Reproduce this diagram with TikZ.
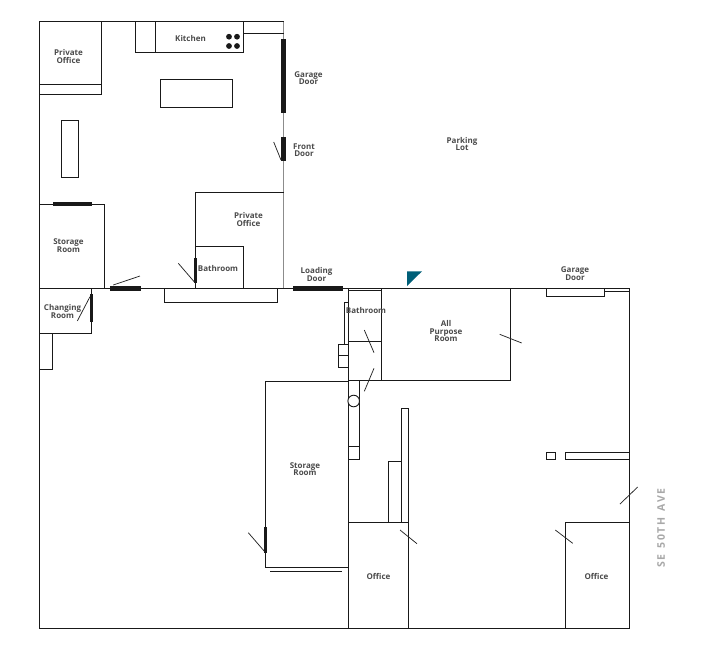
\documentclass[tikz,border=0pt]{standalone}
\usepackage{fontspec}
\setmainfont{Open Sans}
\setlength{\lineskiplimit}{-5pt}
\definecolor{wallgray}{HTML}{8C8C8C}
\definecolor{labelgray}{HTML}{4A4A4A}
\definecolor{streetgray}{HTML}{A8A8A8}
\definecolor{markerteal}{HTML}{005F78}

\begin{document}
\begin{tikzpicture}[
        x=1pt, y=-1pt,
        wall/.style={draw=black!90, line width=0.9pt},
        swing/.style={draw=black!85, line width=0.75pt},
        doorbar/.style={draw=black!90, line width=5pt},
        doorthin/.style={draw=black!90, line width=3pt},
        roomlabel/.style={font=\fontsize{8}{7.4}\selectfont\bfseries, text=labelgray, align=center, inner sep=0pt}]

        \useasboundingbox (0,0) rectangle (715,662);

        % --- OUTER WALLS ---
        \draw[wall] (283.5,21.5) -- (39.5,21.5) -- (39.5,628.3) -- (629.3,628.3) -- (629.3,288.3);
        \draw[wall] (39.5,288.3) -- (629.3,288.3);
        \draw[draw=wallgray, line width=1pt] (283.5,21.5) -- (283.5,288.3);

        % --- NORTH WING ---
        % Private office and shelf
        \draw[wall] (39.5,84) -- (101.5,84) (101.5,21.5) -- (101.5,94) -- (39.5,94);
        % Kitchen
        \draw[wall] (135.5,21.5) -- (135.5,52) -- (243,52) -- (243,21.5);
        \draw[wall] (155.5,21.5) -- (155.5,52);
        \draw[wall] (243,33.5) -- (283.5,33.5);
        \foreach \x in {229,237}
            \foreach \y in {36.7,46}
                \fill[black!90] (\x,\y) circle (2.9pt);
        % Island and table
        \draw[wall] (160,79.5) rectangle (232.5,107);
        \draw[wall] (61.5,120) rectangle (78.5,177);
        % Storage room
        \draw[wall] (39.5,204.3) -- (104.3,204.3) -- (104.3,288.3);
        % Private office and bathroom
        \draw[wall] (195.3,288.3) -- (195.3,192.3) -- (283.5,192.3);
        \draw[wall] (195.3,246.3) -- (243.3,246.3) -- (243.3,288.3);
        % Counter
        \draw[wall] (164.3,288.3) -- (164.3,302.3) -- (277.7,302.3) -- (277.7,288.3);

        % --- SOUTH WEST ---
        % Changing room
        \draw[wall] (91.7,288.3) -- (91.7,333.3) -- (39.5,333.3);
        \draw[wall] (52.3,333.3) -- (52.3,369.3) -- (39.5,369.3);
        % Storage room
        \draw[wall] (348.3,381.3) -- (265.3,381.3) -- (265.3,567.3) -- (348.3,567.3);
        \draw[wall] (270,571.3) -- (342,571.3);

        % --- CENTRE ---
        % Bathroom column
        \draw[wall] (348.3,288.3) -- (348.3,628.3);
        \draw[wall] (381.3,288.3) -- (381.3,380.3);
        \draw[wall] (348.3,290.3) -- (381.3,290.3);
        \draw[wall] (348.3,341.3) -- (381.3,341.3);
        \draw[wall] (344.3,344.3) -- (344.3,302.3) -- (348.3,302.3);
        \draw[wall] (338.3,344.3) rectangle (348.3,367.3);
        \draw[wall] (338.3,355.3) -- (348.3,355.3);
        % All purpose room
        \draw[wall] (348.3,380.3) -- (510.3,380.3) -- (510.3,288.3);
        % Service column
        \draw[wall] (359.3,380.3) -- (359.3,459.3) -- (348.3,459.3);
        \draw[wall] (348.3,446.3) -- (359.3,446.3);
        \draw[wall, fill=white] (353.7,401) circle (5.8pt);
        % Office and partitions
        \draw[wall] (348.3,522.3) -- (408.5,522.3);
        \draw[wall] (408.5,628.3) -- (408.5,408.3) -- (401.3,408.3) -- (401.3,522.3);
        \draw[wall] (401.3,461.3) -- (388.3,461.3) -- (388.3,522.3);

        % --- EAST WING ---
        \draw[wall] (546.3,288.3) -- (546.3,296.3) -- (604.7,296.3) -- (604.7,288.3);
        \draw[wall] (604.7,291.7) -- (629.3,291.7);
        \draw[wall] (546.3,452.3) rectangle (555.7,459.3);
        \draw[wall] (629.3,452.3) -- (565.3,452.3) -- (565.3,459.3) -- (629.3,459.3);
        \draw[wall] (565.3,628.3) -- (565.3,522.3) -- (629.3,522.3);

        % --- DOORS ---
        \draw[doorbar] (283.5,39) -- (283.5,112.5);
        \draw[doorbar] (283.5,137) -- (283.5,160.5);
        \draw[doorbar] (110,288.3) -- (141,288.3);
        \draw[doorbar] (293,288.3) -- (343,288.3);
        \draw[doorbar, line width=3.5pt] (53,204.2) -- (92,204.2);
        \draw[doorthin] (195.3,258) -- (195.3,282.7);
        \draw[doorthin] (91.2,294) -- (91.2,321.7);
        \draw[doorthin] (265.3,527.3) -- (265.3,552.7);

        % --- DOOR SWINGS ---
        \draw[swing] (273.7,142) -- (281,160);
        \draw[swing] (113.3,285) -- (140,276);
        \draw[swing] (178.3,263.3) -- (195,282.7);
        \draw[swing] (90,296.7) -- (77.3,321);
        \draw[swing] (364.3,330) -- (374,352.7);
        \draw[swing] (374,368.3) -- (364.3,391.3);
        \draw[swing] (499.7,334.3) -- (521.7,343);
        \draw[swing] (248.3,532.7) -- (265,552);
        \draw[swing] (400,530) -- (417,543.7);
        \draw[swing] (555.3,530) -- (572.7,543.3);
        \draw[swing] (620,504) -- (637.7,487);

        % North marker
        \fill[markerteal] (407,271.3) -- (422,271.3) -- (407,286) -- cycle;

        % --- LABELS ---
        \node[roomlabel] (office1) at (68.5,56.5) {Private\\Office};
        \node[roomlabel] (kitchen) at (190.5,38) {Kitchen};
        \node[roomlabel] (garage1) at (308.5,78) {Garage\\Door};
        \node[roomlabel] (front) at (304,150) {Front\\Door};
        \node[roomlabel] (parking) at (462,144) {Parking\\Lot};
        \node[roomlabel] (office2) at (248.5,219.5) {Private\\Office};
        \node[roomlabel] (storage1) at (68.5,245.5) {Storage\\Room};
        \node[roomlabel] (bath1) at (218,268) {Bathroom};
        \node[roomlabel] (loading) at (316.5,274.5) {Loading\\Door};
        \node[roomlabel] (changing) at (62.5,311.5) {Changing\\Room};
        \node[roomlabel] (bath2) at (366,310) {Bathroom};
        \node[roomlabel] (allpurpose) at (446,331) {All\\Purpose\\Room};
        \node[roomlabel] (garage2) at (575,273.5) {Garage\\Door};
        \node[roomlabel] (storage2) at (305,469) {Storage\\Room};
        \node[roomlabel] (office3) at (378.5,576) {Office};
        \node[roomlabel] (office4) at (596.5,576) {Office};
        \node[roomlabel, text=streetgray, rotate=90, font=\fontsize{10.5}{11}\selectfont\bfseries] (street) at (661,528) {S\,E\ \ 5\,0\,T\,H\ \ A\,V\,E};

    \end{tikzpicture}
\end{document}
